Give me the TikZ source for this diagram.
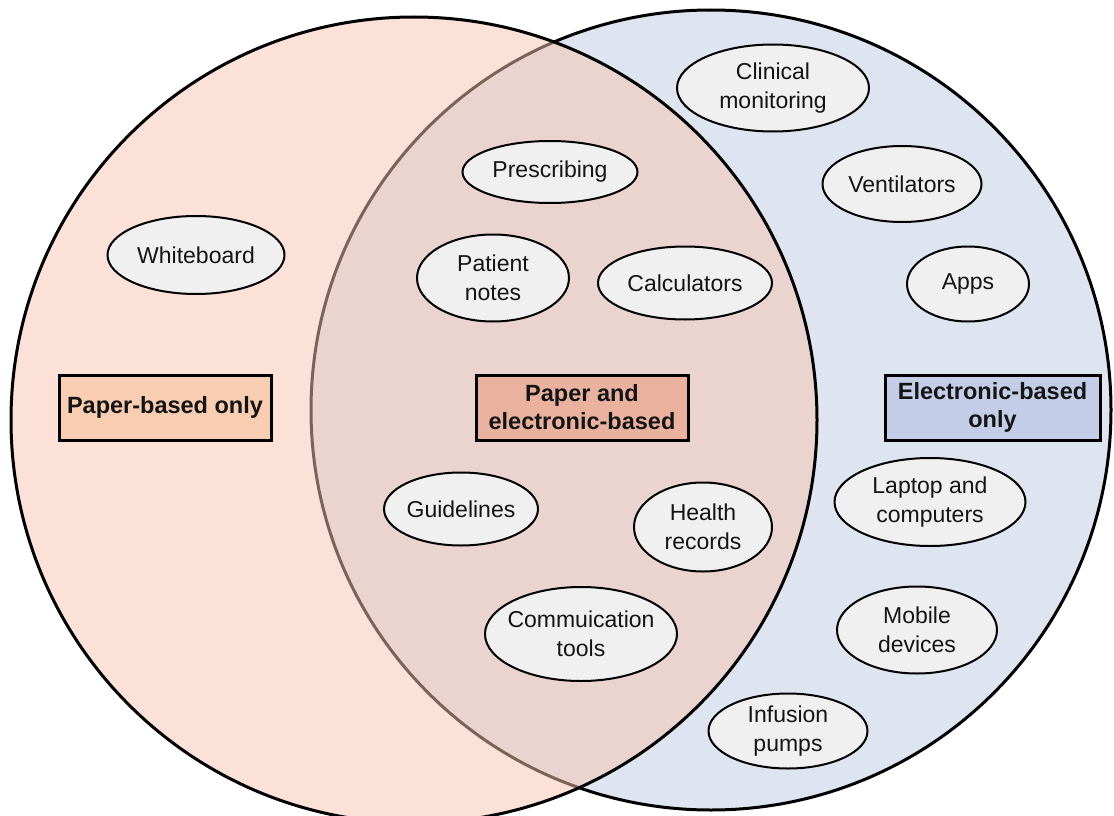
\documentclass[tikz,border=0pt]{standalone}
\usepackage{fontspec}
\setmainfont{Liberation Sans}
\usetikzlibrary{shapes.geometric}

\definecolor{paperfill}{RGB}{249,197,177}
\definecolor{elecfill}{RGB}{222,228,240}
\definecolor{bubfill}{RGB}{240,240,240}
\definecolor{paperbox}{RGB}{248,205,178}
\definecolor{bothbox}{RGB}{234,178,158}
\definecolor{elecbox}{RGB}{196,205,232}

\tikzset{
  setcircle/.style={circle, draw=black, line width=3pt, inner sep=0pt, minimum size=#1},
  bub/.style 2 args={ellipse, draw=black, fill=bubfill, line width=2pt, inner sep=0pt,
    minimum width=#1pt, minimum height=#2pt},
  lbl/.style={align=center, font=\fontsize{23}{28.5}\selectfont, text=black!92},
  catbox/.style={draw=black, line width=3pt, inner sep=0pt, align=center,
    font=\fontsize{23.5}{28}\selectfont\bfseries, text=black!92}
}

\begin{document}
\begin{tikzpicture}[x=1pt, y=-1pt]
  \useasboundingbox (0,0) rectangle (1114,816);
  \fill[white] (0,0) rectangle (1114,816);

  % the two sets; the paper set is half transparent so the overlap mixes both
  \node[setcircle=800pt, fill=elecfill] (elec) at (711,410) {};
  \node[setcircle=806pt, fill=paperfill, fill opacity=0.5] (paper) at (414,420) {};

  % category labels
  \node[catbox, fill=paperbox, minimum width=212pt, minimum height=65pt]
    (paperonly) at (165,407.5) {Paper-based only};
  \node[catbox, fill=bothbox, minimum width=212pt, minimum height=65pt]
    (both) at (582,407.5) {Paper and\\electronic-based};
  \node[catbox, fill=elecbox, minimum width=215pt, minimum height=65pt]
    (eleconly) at (992.5,407.5) {Electronic-based\\only};

  % paper only
  \node[bub={177}{78}, label={[lbl]center:Whiteboard}] (white) at (196,255) {};

  % paper and electronic
  \node[bub={175}{62}, label={[lbl]center:Prescribing}] (presc) at (550,172) {};
  \node[bub={152}{87}, label={[lbl]center:{Patient\\notes}}] (pat) at (493,278) {};
  \node[bub={174}{73}, label={[lbl]center:Calculators}] (calc) at (685,283) {};
  \node[bub={154}{73}, label={[lbl]center:Guidelines}] (guide) at (461,509) {};
  \node[bub={138}{89}, label={[lbl]center:{Health\\records}}] (health) at (703,527) {};
  \node[bub={192}{94}, label={[lbl]center:{Commuication\\tools}}] (comm) at (581,634) {};

  % electronic only
  \node[bub={192}{87}, label={[lbl]center:{Clinical\\monitoring}}] (clin) at (773,88) {};
  \node[bub={159}{76}, label={[lbl]center:Ventilators}] (vent) at (902,184) {};
  \node[bub={122}{75}, label={[lbl]center:Apps}] (apps) at (968,284) {};
  \node[bub={191}{88}, label={[lbl]center:{Laptop and\\computers}}] (lap) at (930,502) {};
  \node[bub={160}{87}, label={[lbl]center:{Mobile\\devices}}] (mob) at (917,630) {};
  \node[bub={159}{75}, label={[lbl]center:{Infusion\\pumps}}] (inf) at (788,731) {};
\end{tikzpicture}
\end{document}
